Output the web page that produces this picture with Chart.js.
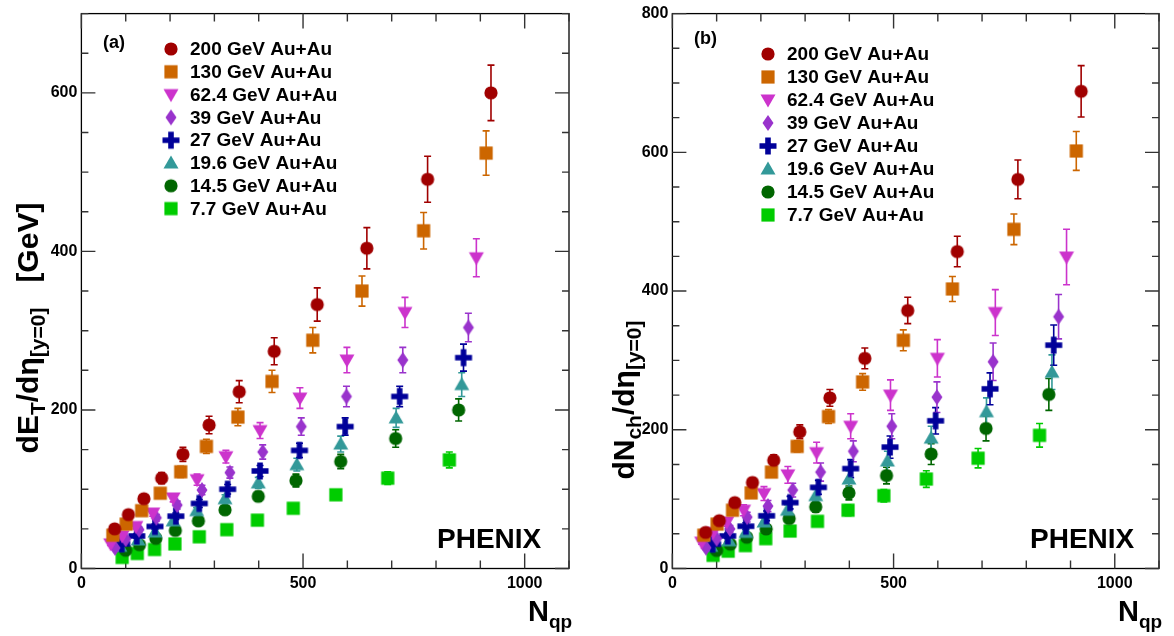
<!DOCTYPE html>
<html><head><meta charset="utf-8">
<script src="https://cdn.jsdelivr.net/npm/chart.js@4/dist/chart.umd.min.js"></script>
<style>
html,body{margin:0;padding:0;background:#fff;}
#wrap{position:relative;width:1174px;height:636px;overflow:hidden;}
canvas{position:absolute;top:0;}
#ca{left:0;} #cb{left:587px;}
</style></head><body>
<div id="wrap"><canvas id="ca" width="587" height="636" style="width:587px;height:636px"></canvas><canvas id="cb" width="587" height="636" style="width:587px;height:636px"></canvas></div>
<script>
// ---------------- data ----------------
const seriesLabels = ['200 GeV Au+Au','130 GeV Au+Au','62.4 GeV Au+Au','39 GeV Au+Au','27 GeV Au+Au','19.6 GeV Au+Au','14.5 GeV Au+Au','7.7 GeV Au+Au'];

const nqp200 = [75,106,141,181,229,288,356,435,532,644,781,924];
const nqp130 = [71,101,136,178,224,282,353,430,522,633,772,913];
const nqp62  = [66,92,123,161,207,261,326,403,493,599,730,891];
const nqp39  = [76,100,130,169,216,272,335,409,496,598,725,873];
const nqp27  = [91,125,166,213,266,330,403,492,595,718,862];
const nqp19  = [87,128,166,207,260,324,399,486,585,710,858];
const nqp14  = [100,131,168,212,264,324,399,484,585,709,851];
const nqp7   = [92,126,165,211,266,328,397,478,574,691,830];

const det200 = [50,68,88,114,144,181,223,274,333,404,491,600];
const det130 = [42,56,73,95,122,154,191,236,288,350,426,524];
const det62  = [31,41,53,70,89,112,141,174,215,263,323,392];
const det39  = [26,37,49,64,80,99,121,147,179,217,263,304];
const det27  = [31,41,53,66,82,100,123,149,179,217,266];
const det19  = [28,36,46,60,73,88,108,131,157,190,232];
const det14  = [23,30,38,48,60,74,91,111,135,164,200];
const det7   = [14,19,24,31,40,49,61,76,93,114,137];

const errEt200 = [3,4,5,7,9,11,14,17,21,26,29,35];
const errEt130 = [3,3,4,5,7,9,11,14,16,19,23,28];
const errEt62  = [2,3,3,4,5,7,8,10,13,16,19,24];
const errEt39  = [2,2,3,4,5,6,7,9,11,13,16,18];
const errEt27  = [2,3,3,4,5,6,7,9,11,13,17];
const errEt19  = [2,2,3,4,4,5,7,8,10,12,15];
const errEt14  = [2,2,3,3,4,5,6,8,9,11,14];
const errEt7   = [1,1,2,2,3,3,4,5,6,8,10];

const dnch200 = [52,69,95,124,156,197,246,303,372,457,561,688];
const dnch130 = [48,64,84,109,139,176,219,269,329,403,489,602];
const dnch62  = [38,52,67,84,108,135,167,205,250,303,369,449];
const dnch39  = [30,43,57,74,90,113,139,169,205,247,298,363];
const dnch27  = [35,47,61,76,95,117,144,175,213,259,322];
const dnch19  = [32,40,52,67,84,105,129,155,188,226,283];
const dnch14  = [26,35,45,57,72,89,109,134,165,202,251];
const dnch7   = [19,25,33,43,54,68,84,105,129,159,192];

const errNch200 = [3,4,5,6,8,10,12,15,19,22,28,37];
const errNch130 = [2,3,4,5,6,8,10,12,15,18,22,28];
const errNch62  = [3,5,6,8,10,12,15,18,22,27,33,40];
const errNch39  = [3,4,5,7,8,10,13,15,18,22,27,32];
const errNch27  = [3,4,5,7,9,10,13,16,19,23,29];
const errNch19  = [3,4,5,6,8,9,12,14,17,20,25];
const errNch14  = [2,3,4,5,6,8,10,12,15,18,23];
const errNch7   = [2,2,3,4,5,6,8,9,12,14,17];

const xTickLabels = [0, 500, 1000];
const yTickLabelsA = [0, 200, 400, 600];
const yTickLabelsB = [0, 200, 400, 600, 800];

// ---------------- styles ----------------
const seriesColors = ['#a00000','#cc6600','#cc33cc','#9933cc','#000099','#339999','#006600','#00cc00'];
const seriesMarkers = ['circle','square','tridown','diamond','cross','triup','circle','square'];

function makeMarker(kind, color){
  const s = 22, m = s/2;
  const c = document.createElement('canvas'); c.width = s; c.height = s;
  const g = c.getContext('2d'); g.fillStyle = color;
  g.beginPath();
  switch(kind){
    case 'circle': g.arc(m,m,6.6,0,2*Math.PI); break;
    case 'square': g.rect(m-6.6,m-6.6,13.2,13.2); break;
    case 'tridown': g.moveTo(m-7.5,m-5.5); g.lineTo(m+7.5,m-5.5); g.lineTo(m,m+7.5); g.closePath(); break;
    case 'triup': g.moveTo(m-7.5,m+5.5); g.lineTo(m+7.5,m+5.5); g.lineTo(m,m-7.5); g.closePath(); break;
    case 'diamond': g.moveTo(m,m-8); g.lineTo(m+5.5,m); g.lineTo(m,m+8); g.lineTo(m-5.5,m); g.closePath(); break;
    case 'cross': g.rect(m-8.5,m-2.8,17,5.6); g.rect(m-2.8,m-8.5,5.6,17); break;
  }
  g.fill();
  return c;
}
const markerImgs = seriesColors.map((c,i)=>makeMarker(seriesMarkers[i], c));

const FONT = '"Liberation Sans", Arial, Helvetica, sans-serif';

function buildDatasets(nArr, vArr, eArr){
  return nArr.map((n,si)=>({
    label: seriesLabels[si],
    data: n.map((x,i)=>({x:x, y:vArr[si][i]})),
    err: eArr[si],
    pointStyle: markerImgs[si],
    pointRadius: 8,
    pointHoverRadius: 8,
    borderColor: seriesColors[si],
    backgroundColor: seriesColors[si],
    showLine: false,
    order: si
  })).reverse();
}

// ---------- plugins ----------
const errorBars = {
  id: 'errorBars',
  beforeDatasetsDraw(chart){
    const {ctx, scales:{x,y}} = chart;
    ctx.save();
    ctx.lineWidth = 1.6;
    chart.data.datasets.forEach(ds=>{
      ctx.strokeStyle = ds.borderColor;
      ds.data.forEach((p,i)=>{
        const e = ds.err[i];
        const px = x.getPixelForValue(p.x);
        const y1 = y.getPixelForValue(p.y + e), y2 = y.getPixelForValue(p.y - e);
        ctx.beginPath();
        ctx.moveTo(px,y1); ctx.lineTo(px,y2);
        ctx.moveTo(px-3.5,y1); ctx.lineTo(px+3.5,y1);
        ctx.moveTo(px-3.5,y2); ctx.lineTo(px+3.5,y2);
        ctx.stroke();
      });
    });
    ctx.restore();
  }
};

function drawSegments(ctx, segs, x0, y0){
  let x = x0;
  segs.forEach(s=>{
    ctx.font = 'bold ' + s.size + 'px ' + FONT;
    ctx.fillText(s.t, x, y0 + (s.dy||0));
    x += ctx.measureText(s.t).width;
  });
}
function segWidth(ctx, segs){
  let w = 0;
  segs.forEach(s=>{ ctx.font = 'bold ' + s.size + 'px ' + FONT; w += ctx.measureText(s.t).width; });
  return w;
}

const deco_impl = {
  beforeDatasetsDraw(chart, args, o){
    const {ctx, chartArea:a, scales:{x,y}} = chart;
    ctx.save();
    ctx.strokeStyle = '#000'; ctx.lineWidth = 1.3;
    ctx.strokeRect(a.left, a.top, a.right-a.left, a.bottom-a.top);
    ctx.strokeStyle = '#333'; ctx.lineWidth = 1.4;
    ctx.beginPath();
    for (let v = 0; v <= x.max + 0.01; v += 100){
      const px = x.getPixelForValue(v);
      const L = (v % 500 === 0) ? 15 : 8;
      ctx.moveTo(px, a.bottom); ctx.lineTo(px, a.bottom - L);
      ctx.moveTo(px, a.top); ctx.lineTo(px, a.top + L);
    }
    for (let v = 0; v <= y.max + 0.01; v += 50){
      const py = y.getPixelForValue(v);
      const L = (v % 200 === 0) ? 14 : 7;
      ctx.moveTo(a.left, py); ctx.lineTo(a.left + L, py);
      ctx.moveTo(a.right, py); ctx.lineTo(a.right - L, py);
    }
    ctx.stroke();
    ctx.restore();
  },
  afterDraw(chart, args, o){
    const {ctx} = chart;
    ctx.save();
    ctx.fillStyle = '#000';
    ctx.textBaseline = 'alphabetic';
    ctx.font = 'bold 18px ' + FONT;
    ctx.fillText(o.tag, o.tagX, o.tagY);
    ctx.font = 'bold 28px ' + FONT;
    ctx.fillText('PHENIX', o.phX, 548);
    ctx.font = 'bold 19px ' + FONT;
    ctx.textBaseline = 'middle';
    seriesLabels.forEach((lab,i)=>{
      const yy = o.legY + i*o.legDy;
      ctx.drawImage(markerImgs[i], o.legX - 11, yy - 11);
      ctx.fillText(lab, o.legX + 19, yy + 1);
    });
    ctx.textBaseline = 'alphabetic';
    drawSegments(ctx, [{t:'N',size:29},{t:'qp',size:19,dy:7}], o.xtX, 621);
    ctx.translate(o.ytX, o.ytY);
    ctx.rotate(-Math.PI/2);
    const w = segWidth(ctx, o.ytSegs);
    drawSegments(ctx, o.ytSegs, -w/2, 0);
    ctx.restore();
  }
};

function makeChart(id, dsets, ymax, yTicks, padR, yWidth, deco){
  return new Chart(document.getElementById(id), {
    type: 'scatter',
    data: { datasets: dsets },
    options: {
      responsive: false, animation: false, devicePixelRatio: 1,
      layout: { padding: { left: 0, right: padR, top: 8, bottom: 0 } },
      scales: {
        x: {
          type: 'linear', min: 0, max: 1100,
          grid: { display: false, drawTicks: false }, border: { display: false },
          afterFit(s){ s.height = 67.5; },
          afterBuildTicks(s){ s.ticks = xTickLabels.map(v=>({value:v})); },
          ticks: { autoSkip: false, maxRotation: 0, padding: 5, color: '#000',
                   callback: v => String(v),
                   font: { family: FONT, weight: 'bold', size: 16 } }
        },
        y: {
          type: 'linear', min: 0, max: ymax,
          grid: { display: false, drawTicks: false }, border: { display: false },
          afterFit(s){ s.width = yWidth; },
          afterBuildTicks(s){ s.ticks = yTicks.map(v=>({value:v})); },
          ticks: { autoSkip: false, padding: 4, color: '#000',
                   callback: v => String(v),
                   font: { family: FONT, weight: 'bold', size: 16 } }
        }
      },
      plugins: { legend: { display: false }, tooltip: { enabled: false } }
    },
    plugins: [errorBars, { id:'deco',
      beforeDatasetsDraw: (c,a)=>deco_impl.beforeDatasetsDraw(c,a,deco),
      afterDraw: (c,a)=>deco_impl.afterDraw(c,a,deco) }]
  });
}

const allN = [nqp200,nqp130,nqp62,nqp39,nqp27,nqp19,nqp14,nqp7];

makeChart('ca',
  buildDatasets(allN, [det200,det130,det62,det39,det27,det19,det14,det7],
                [errEt200,errEt130,errEt62,errEt39,errEt27,errEt19,errEt14,errEt7]),
  700, yTickLabelsA, 18, 81.4,
  { tag:'(a)', tagX:103, tagY:48, phX:437, legX:171, legY:49, legDy:22.8, xtX:528,
    ytX:38, ytY:328,
    ytSegs:[{t:'dE',size:30},{t:'T',size:21,dy:7},{t:'/d\u03b7',size:30},{t:'[y=0]',size:21,dy:7},{t:'   [GeV]',size:30}] });

makeChart('cb',
  buildDatasets(allN, [dnch200,dnch130,dnch62,dnch39,dnch27,dnch19,dnch14,dnch7],
                [errNch200,errNch130,errNch62,errNch39,errNch27,errNch19,errNch14,errNch7]),
  800, yTickLabelsB, 15, 85.4,
  { tag:'(b)', tagX:107, tagY:44, phX:443, legX:181, legY:54, legDy:23, xtX:531,
    ytX:47, ytY:400,
    ytSegs:[{t:'dN',size:30},{t:'ch',size:21,dy:7},{t:'/d\u03b7',size:30},{t:'[y=0]',size:21,dy:7}] });
</script>
</body></html>
